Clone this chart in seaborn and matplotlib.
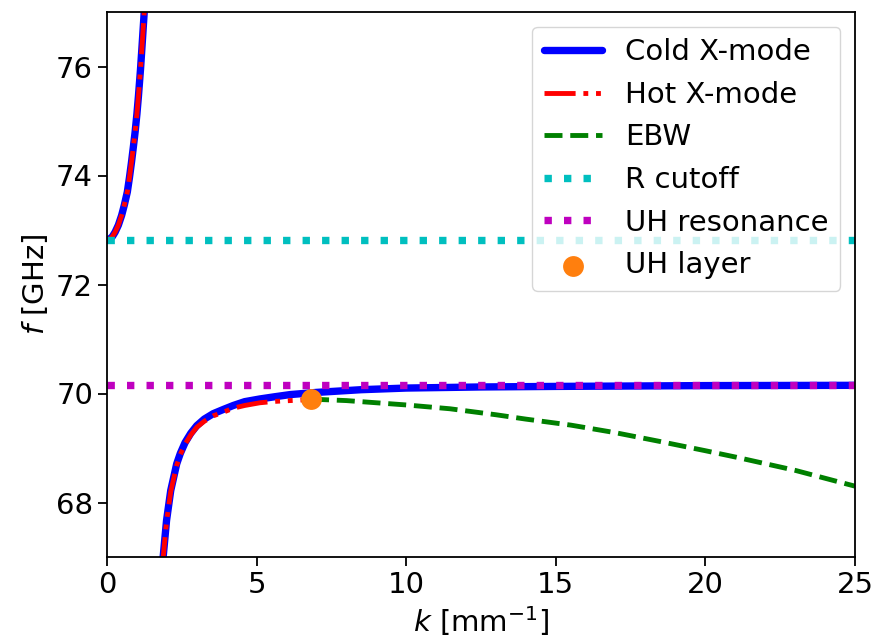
import matplotlib
matplotlib.use("Agg")
import matplotlib.pyplot as plt
import seaborn as sns

# ---- data ----
cold_upper_k = [0.0, 0.08, 0.18, 0.27, 0.38, 0.49, 0.58, 0.68, 0.75, 0.82, 0.88, 0.94,
                1.0, 1.05, 1.12, 1.18, 1.25, 1.30]
cold_upper_f = [72.81, 72.83, 72.88, 72.96, 73.09, 73.27, 73.46, 73.70, 73.96, 74.25, 74.52, 74.80,
                75.13, 75.45, 75.95, 76.45, 77.05, 77.5]

cold_lower_k = [1.80, 1.88, 1.99, 2.13, 2.33, 2.45, 2.61, 2.8, 3.0, 3.25, 3.55, 3.9, 4.22,
                4.6, 5.11, 5.6, 6.12, 7.0, 8.5, 10.0, 12.5, 15.0, 20.0, 25.0]
cold_lower_f = [66.8, 67.02, 67.67, 68.22, 68.71, 68.90, 69.10, 69.27, 69.41, 69.53, 69.63, 69.71, 69.78,
                69.85, 69.90, 69.94, 69.98, 70.02, 70.07, 70.10, 70.12, 70.13, 70.145, 70.15]

hot_upper_k = [0.0, 0.08, 0.18, 0.27, 0.38, 0.49, 0.58, 0.68, 0.75, 0.82, 0.88, 0.94,
               1.0, 1.05, 1.12, 1.18, 1.25, 1.30]
hot_upper_f = [72.81, 72.83, 72.88, 72.96, 73.09, 73.27, 73.46, 73.70, 73.96, 74.25, 74.52, 74.80,
               75.13, 75.45, 75.95, 76.45, 77.05, 77.5]

hot_lower_k = [1.80, 1.88, 1.99, 2.13, 2.33, 2.45, 2.61, 2.8, 3.0, 3.25, 3.55, 3.9, 4.22,
               4.6, 5.11, 5.6, 6.12, 6.82]
hot_lower_f = [66.8, 67.0, 67.65, 68.2, 68.68, 68.88, 69.07, 69.24, 69.38, 69.49, 69.59, 69.66, 69.73,
               69.78, 69.83, 69.855, 69.87, 69.89]

ebw_k = [6.82, 7.12, 8.0, 9.0, 10.0, 11.46, 13.0, 14.0, 15.5, 17.0, 18.48, 20.0, 21.04, 23.0, 24.72, 25.0]
ebw_f = [69.89, 69.89, 69.87, 69.83, 69.79, 69.72, 69.61, 69.53, 69.42, 69.28, 69.12, 68.95,
         68.83, 68.59, 68.34, 68.30]

f_R_cutoff = 72.81
f_UH = 70.16
uh_layer_k = [6.82]
uh_layer_f = [69.89]

x_ticks = [0, 5, 10, 15, 20, 25]
y_ticks = [68, 70, 72, 74, 76]

# ---- style ----
sns.set_style("ticks")
FS = 21
plt.rcParams.update({
    "font.family": ["DejaVu Sans"],
    "font.size": FS,
    "axes.edgecolor": "black",
    "axes.linewidth": 1.3,
    "text.color": "black",
    "axes.labelcolor": "black",
    "xtick.color": "black",
    "ytick.color": "black",
    "xtick.major.size": 6.5,
    "ytick.major.size": 6.5,
    "xtick.major.width": 1.3,
    "ytick.major.width": 1.3,
    "xtick.labelsize": FS,
    "ytick.labelsize": FS,
    "axes.labelsize": FS,
    "legend.fontsize": FS,
})

fig = plt.figure(figsize=(8.75, 6.41), dpi=100)
ax = fig.add_axes([107 / 875, 84 / 641, (855 - 107) / 875, (557 - 12) / 641])

lw_thick = 5.3
lw_thin = 3.5

sns.lineplot(x=cold_upper_k, y=cold_upper_f, ax=ax, color="b", lw=lw_thick,
             sort=False, estimator=None, label="Cold X-mode")
sns.lineplot(x=cold_lower_k, y=cold_lower_f, ax=ax, color="b", lw=lw_thick,
             sort=False, estimator=None)
hot_ls = (0, (6.4, 1.6, 1.0, 1.6, 1.0, 1.6))
sns.lineplot(x=hot_upper_k, y=hot_upper_f, ax=ax, color="r", lw=lw_thin,
             sort=False, estimator=None, linestyle=hot_ls, label="Hot X-mode")
sns.lineplot(x=hot_lower_k, y=hot_lower_f, ax=ax, color="r", lw=lw_thin,
             sort=False, estimator=None, linestyle=hot_ls)
sns.lineplot(x=ebw_k, y=ebw_f, ax=ax, color="g", lw=lw_thin, linestyle="--",
             sort=False, estimator=None, label="EBW")
ax.axhline(f_R_cutoff, color="c", lw=lw_thick, linestyle=":", label="R cutoff")
ax.axhline(f_UH, color="m", lw=lw_thick, linestyle=":", label="UH resonance")
sns.scatterplot(x=uh_layer_k, y=uh_layer_f, ax=ax, color="#ff7f0e", s=225,
                linewidth=0, zorder=5, label="UH layer")

ax.set_xlim(0, 25)
ax.set_ylim(67, 77)
ax.set_xticks(x_ticks)
ax.set_yticks(y_ticks)
ax.set_xlabel(r"$k$ [mm$^{-1}$]")
ax.set_ylabel(r"$f$ [GHz]")

handles, labels = ax.get_legend_handles_labels()
order = ["Cold X-mode", "Hot X-mode", "EBW", "R cutoff", "UH resonance", "UH layer"]
hmap = dict(zip(labels, handles))
ax.legend([hmap[l] for l in order], order, loc="upper right", frameon=True,
          framealpha=0.8, edgecolor="0.8", fancybox=True)

fig.savefig("out.png", dpi=100)
